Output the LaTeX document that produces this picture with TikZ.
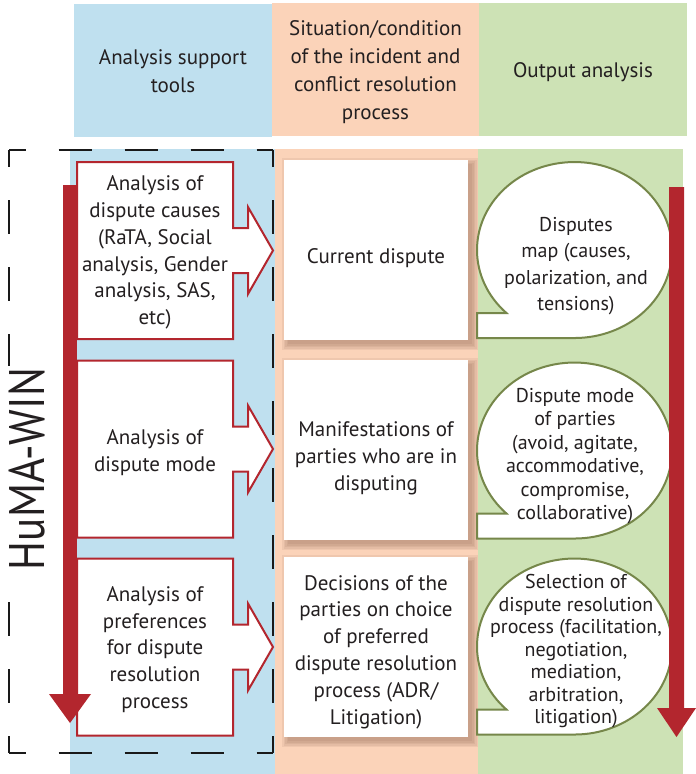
\documentclass[tikz,border=0pt]{standalone}
\usepackage{fontspec}
\setmainfont{PT Sans}
\newfontfamily\humafont{PT Sans}[FakeStretch=0.86]
\definecolor{hblue}{HTML}{BFE0EF}
\definecolor{hpeach}{HTML}{FBD3B9}
\definecolor{hgreen}{HTML}{CDE2B5}
\definecolor{dred}{HTML}{B3262E}
\definecolor{bubline}{HTML}{76874A}
\definecolor{txt}{HTML}{231F20}
\definecolor{shad}{HTML}{7A5040}
\newcommand\mkleftbox[4]{%
  \draw[leftshape] (77,#1-88.5) -- (233,#1-88.5) -- (233,#1-22.5) -- (248,#1-22.5)
    -- (248,#1-43.5) -- (273,#1) -- (248,#1+43.5) -- (248,#1+22.5) -- (233,#1+22.5)
    -- (233,#1+88.5) -- (77,#1+88.5) -- cycle;
  \node[bodytext] (#2) at (155,#1+#4) {#3};}
\newcommand\mkshadow[1]{%
  \foreach \s in {0,1.5,3,4.5,6}{
    \fill[shad, opacity=0.09] (284+4-\s,#1-90+4-\s) rectangle (468+4+\s,#1+90+4+\s);}}
\newcommand\mkbubble[1]{%
  \draw[bubshape] (574.5-68.1,#1+63) arc[start angle=134.3, end angle=450, x radius=97.5, y radius=88]
    -- (477,#1+88) -- (477,#1+63) -- cycle;}
\begin{document}
\begin{tikzpicture}[x=1pt,y=-1pt,
  every node/.style={text=txt, align=center, inner sep=0pt},
  hdrbox/.style={font=\fontsize{21}{28}\selectfont},
  bodytext/.style={font=\fontsize{21}{26.8}\selectfont},
  bubtext/.style={font=\fontsize{20}{23.5}\selectfont},
  midbox/.style={fill=white, minimum width=184pt, minimum height=180pt},
  midtext/.style={bodytext},
  leftshape/.style={fill=white, draw=dred, line width=2pt, line join=miter},
  bubshape/.style={fill=white, draw=bubline, line width=2pt},
  dashside/.style={draw=black!90, line width=2.5pt},
  redarrow/.style={fill=dred}]
\useasboundingbox (0,0) rectangle (696,774);
% header
\node[fill=hblue, minimum width=198pt, minimum height=133pt] (hA) at (173,70.5) {};
\node[fill=hpeach, minimum width=207pt, minimum height=133pt] (hB) at (375.5,69.5) {};
\node[fill=hgreen, minimum width=208pt, minimum height=133pt] (hC) at (583,69.5) {};
\node[hdrbox] (hAt) at (173,71.5) {Analysis support\\tools};
\node[hdrbox] (hBt) at (375.5,72.5) {Situation/condition\\of the incident and\\conflict resolution\\process};
\node[hdrbox] (hCt) at (583,72) {Output analysis};
% columns
\fill[hblue] (70,149) rectangle (275,774);
\fill[hpeach] (275,149) rectangle (478,774);
\fill[hgreen] (478,149) rectangle (683,774);
% dashed frame
\draw[dashside, dash pattern=on 33pt off 33pt, dash phase=16.5pt] (9,150) -- (273,150);
\draw[dashside, dash pattern=on 33pt off 33pt, dash phase=16.5pt] (9,753) -- (273,753);
\draw[dashside, dash pattern=on 33.5pt off 33.5pt, dash phase=16.75pt] (9,150) -- (9,753);
\draw[dashside, dash pattern=on 33.5pt off 33.5pt, dash phase=16.75pt] (273,150) -- (273,753);
% HuMA-WIN label
\node[rotate=90, fill=white, inner sep=2pt, font=\humafont\fontsize{50}{50}\selectfont] (huma) at (27,469) {HuMA-WIN};
% left red bar
\fill[redarrow] (63,185) rectangle (77,694);
% left boxes
\mkleftbox{250.5}{l1}{Analysis of\\dispute causes\\(RaTA, Social\\analysis, Gender\\analysis, SAS,\\etc)}{2}
\mkleftbox{449}{l2}{Analysis of\\dispute mode}{4}
\mkleftbox{647}{l3}{Analysis of\\preferences\\for dispute\\resolution\\process}{2.5}
% left arrow head
\fill[redarrow] (49,694) -- (91,694) -- (70,723) -- cycle;
% middle boxes
\mkshadow{250}
\mkshadow{450}
\mkshadow{647}
\node[midbox] (m1) at (376,250) {};
\node[midbox] (m2) at (376,450) {};
\node[midbox] (m3) at (376,647) {};
\node[midtext] (m1t) at (376,258) {Current dispute};
\node[midtext] (m2t) at (376,458) {Manifestations of\\parties who are in\\disputing};
\node[midtext] (m3t) at (376,652) {Decisions of the\\parties on choice\\of preferred\\dispute resolution\\process (ADR/\\Litigation)};
% bubbles
\mkbubble{250}
\mkbubble{450.5}
\mkbubble{646.5}
\node[bodytext, font=\fontsize{20}{26.5}\selectfont] (b1) at (576,266) {Disputes\\map (causes,\\polarization, and\\tensions)};
\node[bubtext] (b2) at (575,456) {Dispute mode\\of parties\\(avoid, agitate,\\accommodative,\\compromise,\\collaborative)};
\node[bubtext, font=\fontsize{20}{22.5}\selectfont] (b3) at (576,651.5) {Selection of\\dispute resolution\\process (facilitation,\\negotiation,\\mediation,\\arbitration,\\litigation)};
% right red arrow
\fill[redarrow] (669,187) -- (684,187) -- (684,708) -- (696,708) -- (676.5,737) -- (657,708) -- (669,708) -- cycle;
\end{tikzpicture}
\end{document}
